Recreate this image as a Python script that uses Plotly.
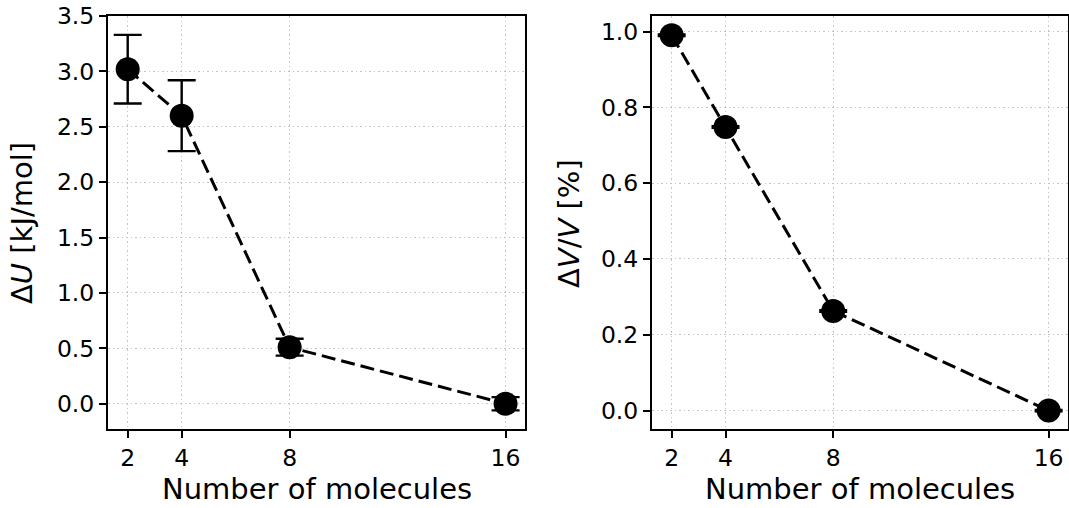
import plotly.graph_objects as go

n_molecules = [2, 4, 8, 16]
delta_U = [3.02, 2.60, 0.51, 0.0]
delta_U_err = [0.31, 0.32, 0.076, 0.06]
delta_V = [0.99, 0.748, 0.263, 0.0]
delta_V_err = [0.002, 0.002, 0.002, 0.002]

x_ticks = [2, 4, 8, 16]
yU_ticks = [0.0, 0.5, 1.0, 1.5, 2.0, 2.5, 3.0, 3.5]
yV_ticks = [0.0, 0.2, 0.4, 0.6, 0.8, 1.0]

W, H = 1069, 508
FONT = "DejaVu Sans"

fig = go.Figure()

def add_series(x, y, err, xa, ya):
    fig.add_trace(go.Scatter(
        x=x, y=y, xaxis=xa, yaxis=ya, mode="lines+markers",
        line=dict(color="black", width=3, dash="14px,6px"),
        marker=dict(color="black", size=24, line=dict(width=0)),
        error_y=dict(type="data", array=err, visible=True, color="black",
                     thickness=2.4, width=14),
        showlegend=False, hoverinfo="x+y"))

add_series(n_molecules, delta_U, delta_U_err, "x", "y")
add_series(n_molecules, delta_V, delta_V_err, "x2", "y2")

def px_x(p):
    return p / W

def px_y(p):
    return (H - p) / H

ydom = [px_y(429), px_y(16)]

axis_common = dict(
    showline=True, linecolor="black", linewidth=2, mirror=True,
    ticks="outside", ticklen=7, tickwidth=1.6, tickcolor="black",
    showgrid=True, gridcolor="#c4c4c4", gridwidth=1.4, griddash="1.5px,3px",
    zeroline=False, automargin=False,
    tickfont=dict(family=FONT, size=23.5, color="black"),
)

fig.update_layout(
    width=W, height=H,
    margin=dict(l=0, r=0, t=0, b=0, autoexpand=False),
    paper_bgcolor="white", plot_bgcolor="white",
    font=dict(family=FONT, color="black"),
    xaxis=dict(domain=[px_x(108), px_x(525)], range=[1.27, 16.72],
               tickvals=x_ticks, ticktext=[str(v) for v in x_ticks],
               anchor="y", **axis_common),
    yaxis=dict(domain=ydom, range=[-0.228, 3.5], tickvals=yU_ticks,
               tickformat=".1f", anchor="x", **axis_common),
    xaxis2=dict(domain=[px_x(652), px_x(1068)], range=[1.27, 16.72],
                tickvals=x_ticks, ticktext=[str(v) for v in x_ticks],
                anchor="y2", **axis_common),
    yaxis2=dict(domain=ydom, range=[-0.0485, 1.041], tickvals=yV_ticks,
                tickformat=".1f", anchor="x2", **axis_common),
)

title_font = dict(family=FONT, size=29, color="black")
annots = [
    dict(text="Number of molecules", x=px_x(317), y=px_y(489)),
    dict(text="Number of molecules", x=px_x(860), y=px_y(489)),
    dict(text="Δ<i>U</i> [kJ/mol]", x=px_x(22), y=px_y(223), textangle=-90),
    dict(text="Δ<i>V</i>/<i>V</i> [%]", x=px_x(569), y=px_y(223), textangle=-90),
]
for a in annots:
    fig.add_annotation(xref="paper", yref="paper", showarrow=False,
                       xanchor="center", yanchor="middle", font=title_font, **a)

fig.write_html("out.html")
